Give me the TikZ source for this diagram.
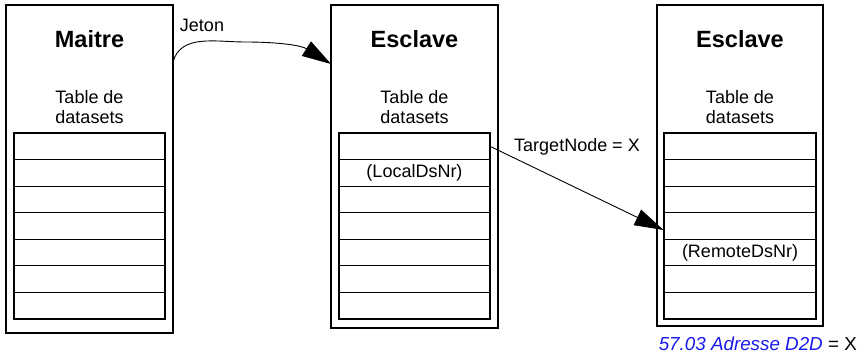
\documentclass[tikz,border=0pt]{standalone}
\usepackage{fontspec}
\setmainfont{Liberation Sans}
\usetikzlibrary{arrows.meta}
\definecolor{refblue}{RGB}{25,25,235}
\begin{document}
\begin{tikzpicture}[x=1pt,y=-1pt,
  outerbox/.style={draw,line width=2.6pt,anchor=north west,inner sep=0pt,outer sep=0pt},
  rowcell/.style={draw,line width=0.9pt,anchor=north west,inner sep=0pt,outer sep=0pt,minimum width=151pt,minimum height=26.57pt,font=\fontsize{18}{20}\selectfont},
  tableframe/.style={line width=2pt},
  titletext/.style={font=\fontsize{23.5}{26}\selectfont\bfseries},
  labeltext/.style={font=\fontsize{18}{20}\selectfont,align=center},
  bigarrow/.style={line width=0.9pt,-{Triangle[length=29pt,width=17pt]}}
]
\useasboundingbox (0,0) rectangle (859,356);
% outer boxes
\node[outerbox,minimum width=167pt,minimum height=328pt] (m) at (6,5) {};
\node[outerbox,minimum width=167pt,minimum height=323pt] (s1) at (331,5) {};
\node[outerbox,minimum width=166pt,minimum height=321pt] (s2) at (657,5) {};
% titles
\node[titletext] (tm) at (89.5,39) {Maitre};
\node[titletext] (ts1) at (414.5,39) {Esclave};
\node[titletext] (ts2) at (740,39) {Esclave};
% table captions
\node[labeltext] (cm) at (89.5,107) {Table de\\datasets};
\node[labeltext] (cs1) at (414.5,107) {Table de\\datasets};
\node[labeltext] (cs2) at (740,107) {Table de\\datasets};
% tables
\foreach \i in {1,...,7}{
  \node[rowcell] (ta\i) at (14,{133+(\i-1)*26.57}) {};
  \node[rowcell] (tb\i) at (339,{133+(\i-1)*26.57}) {};
  \node[rowcell,minimum width=152pt] (tc\i) at (664,{133+(\i-1)*26.57}) {};
}
\draw[tableframe] (ta1.north west) rectangle (ta7.south east);
\draw[tableframe] (tb1.north west) rectangle (tb7.south east);
\draw[tableframe] (tc1.north west) rectangle (tc7.south east);
\node[labeltext] (ld) at (tb2) {(LocalDsNr)};
\node[labeltext] (rd) at (tc5) {(RemoteDsNr)};
% Jeton connector
\coordinate (js) at (173,62);
\coordinate (je) at (331,64);
\draw[bigarrow] (js) to[out=75,in=180] (245,42) to[out=0,in=148] (je);
\node[labeltext] (jl) at (202,25) {Jeton};
% TargetNode connector
\coordinate (te) at (663.5,230);
\draw[bigarrow] (tb1.east) -- (te);
\node[labeltext] (tl) at (577,147) {TargetNode = X};
% bottom label
\node[labeltext,anchor=base east,inner sep=0pt,font=\fontsize{18.8}{21}\selectfont] (bl) at (857,350) {\textcolor{refblue}{\itshape 57.03 Adresse D2D} = X};
\end{tikzpicture}
\end{document}
